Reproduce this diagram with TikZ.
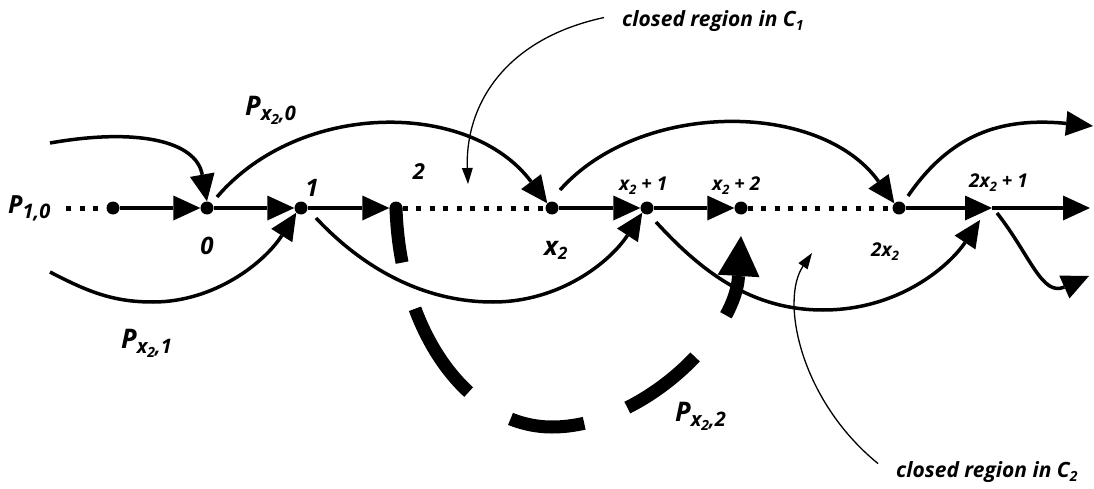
\documentclass[tikz,border=0pt]{standalone}
\usepackage{fontspec}
\setmainfont{Open Sans}
\usetikzlibrary{arrows.meta,calc}
\newcommand{\Plabel}[3]{{\fontsize{#1}{#1}\selectfont P}\raisebox{-5pt}{\fontsize{#2}{#2}\selectfont #3}}
\newcommand{\subnum}[2]{\raisebox{-4pt}{\fontsize{#1}{#1}\selectfont #2}}
\begin{document}
\begin{tikzpicture}[x=1pt,y=-1pt,
  dotnode/.style={circle, fill=black, inner sep=0pt, minimum size=13pt},
  axisline/.style={line width=4.5pt, -{Triangle[length=27pt,width=25pt,line width=0pt]}},
  axisdots/.style={line width=5pt, dash pattern=on 5pt off 8.5pt},
  arcline/.style={line width=3.5pt, -{Triangle[length=27pt,width=25pt,line width=0pt]}},
  pointer/.style={line width=1.3pt, -{Triangle[length=16pt,width=11pt,line width=0pt]}},
  bigdash/.style={line width=13pt, dash pattern=on 55pt off 48pt on 100pt off 50pt on 75pt off 46pt on 85pt off 52pt on 300pt,
    -{Triangle[length=40pt,width=42pt,line width=0pt]}},
  lbl/.style={inner sep=0pt, font=\bfseries\itshape}]
\useasboundingbox (0,0) rectangle (1094,489);
\fill[white] (0,0) rectangle (1094,489);

% axis nodes
\node[dotnode] (n0) at (113,208) {};
\node[dotnode] (a0) at (207,208) {};
\node[dotnode] (a1) at (301,208) {};
\node[dotnode] (a2) at (396,208) {};
\node[dotnode] (ax) at (552,208) {};
\node[dotnode] (ax1) at (647,208) {};
\node[dotnode] (ax2) at (741,208) {};
\node[dotnode] (a2x) at (899,208) {};
\coordinate (a2x1) at (992,208);
\coordinate (aend) at (1090,208);
\coordinate (lstart) at (66,208);

% thick dashed path P_{x2,2}
\coordinate (b2) at (552,427);
\coordinate (p2e) at (741,236);
\draw[bigdash] (a2.center) .. controls (400,335) and (470,427) .. (b2)
   .. controls (642,427) and (735,335) .. (p2e);

% upper arcs
\coordinate (c1s) at (50,143);
\draw[arcline] (c1s) .. controls (135,128) and (196,140) .. (a0.north);
\draw[arcline] ($(a0)+(10,-11)$) .. controls (300,100) and (470,100) .. (ax.north west);
\draw[arcline] ($(ax)+(8,-18)$) .. controls (640,100) and (820,100) .. (a2x.north west);
\coordinate (c4e) at (1093,126);
\draw[arcline] ($(a2x)+(9,-12)$) .. controls (950,135) and (1000,117) .. (c4e);

% lower arcs
\coordinate (c5s) at (50,272);
\coordinate (b5) at (153,302);
\draw[arcline] (c5s) .. controls (90,293) and (115,302) .. (b5)
   .. controls (215,302) and (265,262) .. (a1.south west);
\coordinate (b6) at (493,302);
\draw[arcline] ($(a1)+(15,10)$) .. controls (360,265) and (420,302) .. (b6)
   .. controls (560,302) and (610,262) .. (ax1.south west);
\coordinate (b7) at (823,310);
\draw[arcline] ($(ax1)+(9,14)$) .. controls (700,270) and (750,310) .. (b7)
   .. controls (900,310) and (950,265) .. ($(a2x1)+(-12,12)$);
\coordinate (c8e) at (1089,276);
\draw[arcline] ($(a2x1)+(5,5)$) .. controls (1030,255) and (1042,297) .. (c8e);

% axis
\draw[axisdots] (lstart) -- (n0.west);
\draw[axisdots] (a2.east) -- (ax.west);
\draw[axisdots] (ax2.east) -- (a2x.west);
\draw[axisline] (n0) -- (a0);
\draw[axisline] (a0) -- (a1);
\draw[axisline] (a1) -- (a2);
\draw[axisline] (ax) -- (ax1);
\draw[axisline] (ax1) -- (ax2);
\draw[axisline] (a2x) -- (a2x1);
\draw[axisline] (a2x1) -- (aend);

% labels
\node[lbl, anchor=base west] (lP10) at (8,213) {\Plabel{25}{20}{1,0}};
\node[lbl, anchor=base west] (lPx0) at (245,116) {\Plabel{27}{20}{x\subnum{14}{2},0}};
\node[lbl, anchor=base west] (lPx1) at (121,348) {\Plabel{27}{20}{x\subnum{14}{2},1}};
\node[lbl, anchor=base west] (lPx2) at (675,421) {\Plabel{27}{20}{x\subnum{14}{2},2}};
\node[lbl] (l0) at (207,246) {\fontsize{24}{24}\selectfont 0};
\node[lbl] (l1) at (312,188) {\fontsize{24}{24}\selectfont 1};
\node[lbl] (l2) at (419,172) {\fontsize{22}{22}\selectfont 2};
\node[lbl, anchor=base west] (lx) at (544,255) {\fontsize{26}{26}\selectfont x\subnum{17}{2}};
\node[lbl, anchor=base west] (lx1) at (619,190) {\fontsize{19}{19}\selectfont x\subnum{13}{2} + 1};
\node[lbl, anchor=base west] (lx2) at (712,190) {\fontsize{19}{19}\selectfont x\subnum{13}{2} + 2};
\node[lbl, anchor=base west] (l2x) at (871,256) {\fontsize{19}{19}\selectfont 2x\subnum{13}{2}};
\node[lbl, anchor=base west] (l2x1) at (969,188) {\fontsize{19}{19}\selectfont 2x\subnum{13}{2} + 1};

\node[lbl, anchor=base west] (t1) at (622,27) {\fontsize{21}{21}\selectfont closed region in C\subnum{14}{1}};
\node[lbl, anchor=base west] (t2) at (896,477) {\fontsize{21}{21}\selectfont closed region in C\subnum{14}{2}};
\coordinate (r1) at (468,184);
\coordinate (r2) at (812,253);
\draw[pointer] ([xshift=-18pt,yshift=4pt]t1.west) .. controls (500,40) and (465,110) .. (r1);
\draw[pointer] ([xshift=-18pt,yshift=8pt]t2.west) .. controls (800,400) and (780,300) .. (r2);
\end{tikzpicture}
\end{document}
